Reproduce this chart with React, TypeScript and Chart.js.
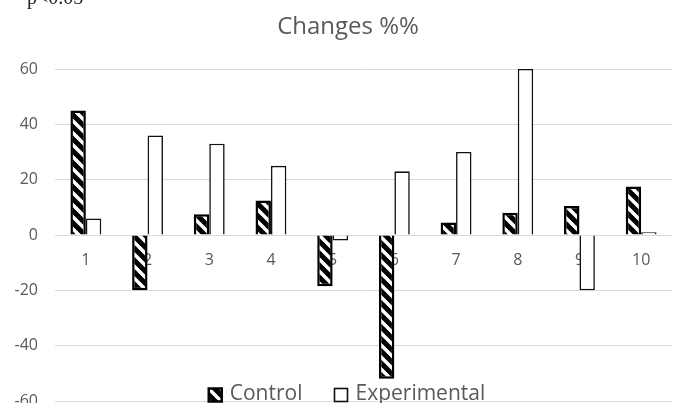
import React, { useEffect, useRef } from "react";
import { Chart, registerables } from "chart.js";

Chart.register(...registerables);

const categories = ["1", "2", "3", "4", "5", "6", "7", "8", "9", "10"];
const controlValues = [45, -20, 7.5, 12.5, -18.5, -52, 4.5, 8, 10.5, 17.5];
const experimentalValues = [6, 36, 33, 25, -2, 23, 30, 60, -20, 1];
const seriesNames = ["Control", "Experimental"];
const yMin = -60;
const yMax = 60;
const yStep = 20;
const titleText = "Changes %%";
const noteText = "p<0.05";

const GREY = "#595959";
const FONT = '"Open Sans", sans-serif';

function makeHatch(): CanvasPattern | string {
  const s = 12;
  const c = document.createElement("canvas");
  c.width = s;
  c.height = s;
  const g = c.getContext("2d");
  if (!g) return "#000";
  g.fillStyle = "#000";
  g.fillRect(0, 0, s, s);
  g.strokeStyle = "#fff";
  g.lineWidth = 3.5;
  g.beginPath();
  for (let k = -1; k <= 1; k++) {
    g.moveTo(k * s - 1, -1);
    g.lineTo(k * s + s + 1, s + 1);
  }
  g.stroke();
  const p = g.createPattern(c, "repeat");
  return p || "#000";
}

const overlayLegend = {
  id: "overlayLegend",
  afterDraw(chart: any) {
    const ctx: CanvasRenderingContext2D = chart.ctx;
    ctx.save();
    ctx.font = `21px ${FONT}`;
    const box = 13;
    const gap = 8;
    const sep = 32;
    const items = chart.data.datasets.map((ds: any) => ({
      text: ds.label as string,
      fill: ds.backgroundColor,
      stroke: ds.borderColor,
      lw: ds.borderWidth as number,
    }));
    const widths = items.map((it: any) => box + gap + ctx.measureText(it.text).width);
    const total = widths.reduce((a: number, b: number) => a + b, 0) + sep * (items.length - 1);
    let x = 347 - total / 2;
    const cy = 395;
    items.forEach((it: any, i: number) => {
      ctx.fillStyle = it.fill;
      ctx.fillRect(x, cy - box / 2, box, box);
      ctx.lineWidth = it.lw;
      ctx.strokeStyle = it.stroke;
      ctx.strokeRect(x, cy - box / 2, box, box);
      ctx.fillStyle = GREY;
      ctx.textBaseline = "middle";
      ctx.textAlign = "left";
      ctx.fillText(it.text, x + box + gap, cy - 1);
      x += widths[i] + sep;
    });
    ctx.restore();
  },
};

export default function App() {
  const ref = useRef<HTMLCanvasElement | null>(null);

  useEffect(() => {
    if (!ref.current) return;
    const hatch = makeHatch();
    const chart = new Chart(ref.current, {
      type: "bar",
      data: {
        labels: categories,
        datasets: [
          {
            label: seriesNames[0],
            data: controlValues,
            backgroundColor: hatch as any,
            borderColor: "#000",
            borderWidth: 2.5,
          },
          {
            label: seriesNames[1],
            data: experimentalValues,
            backgroundColor: "#fff",
            borderColor: "#111",
            borderWidth: 1.6,
          },
        ],
      },
      options: {
        animation: false,
        responsive: false,
        maintainAspectRatio: false,
        layout: { padding: { left: 0, right: 6, top: 0, bottom: 2 } },
        datasets: {
          bar: { categoryPercentage: 0.5, barPercentage: 1.0 },
        },
        plugins: {
          legend: { display: false },
          tooltip: { enabled: false },
          title: {
            display: true,
            text: titleText,
            color: GREY,
            font: { family: FONT, size: 24, weight: "normal" as any, lineHeight: 1.2 },
            padding: { top: 13, bottom: 27.2 },
          },
        },
        scales: {
          x: {
            position: { y: 0 } as any,
            afterFit: (scale: any) => {
              scale.height = 0;
            },
            grid: { display: false, drawTicks: false },
            border: { display: false },
            ticks: {
              color: GREY,
              font: { family: FONT, size: 16 },
              padding: 16,
            },
          },
          y: {
            min: yMin,
            max: yMax,
            afterFit: (scale: any) => {
              scale.width = 55;
              scale.paddingTop = 0;
              scale.paddingBottom = 0;
            },
            grid: { color: "#d9d9d9", lineWidth: 1, drawTicks: false },
            border: { display: false },
            ticks: {
              stepSize: yStep,
              color: GREY,
              font: { family: FONT, size: 16 },
              padding: 17,
            },
          },
          ySpacer: {
            type: "linear",
            position: "right",
            display: true,
            afterFit: (scale: any) => {
              scale.width = 24;
              scale.paddingTop = 0;
              scale.paddingBottom = 0;
            },
            grid: { display: false, drawTicks: false },
            border: { display: false },
            ticks: { display: false },
          },
        },
      },
      plugins: [overlayLegend],
    });
    return () => chart.destroy();
  }, []);

  return (
    <div
      style={{
        position: "fixed",
        left: 0,
        top: 0,
        width: 678,
        height: 403,
        overflow: "hidden",
        background: "#fff",
      }}
    >
      <canvas ref={ref} width={702} height={403} style={{ display: "block" }} />
      <div
        style={{
          position: "absolute",
          left: 27,
          top: -13,
          fontFamily: '"Liberation Serif", serif',
          fontSize: 20,
          lineHeight: "20px",
          color: "#222",
          whiteSpace: "nowrap",
        }}
      >
        {noteText}
      </div>
    </div>
  );
}
